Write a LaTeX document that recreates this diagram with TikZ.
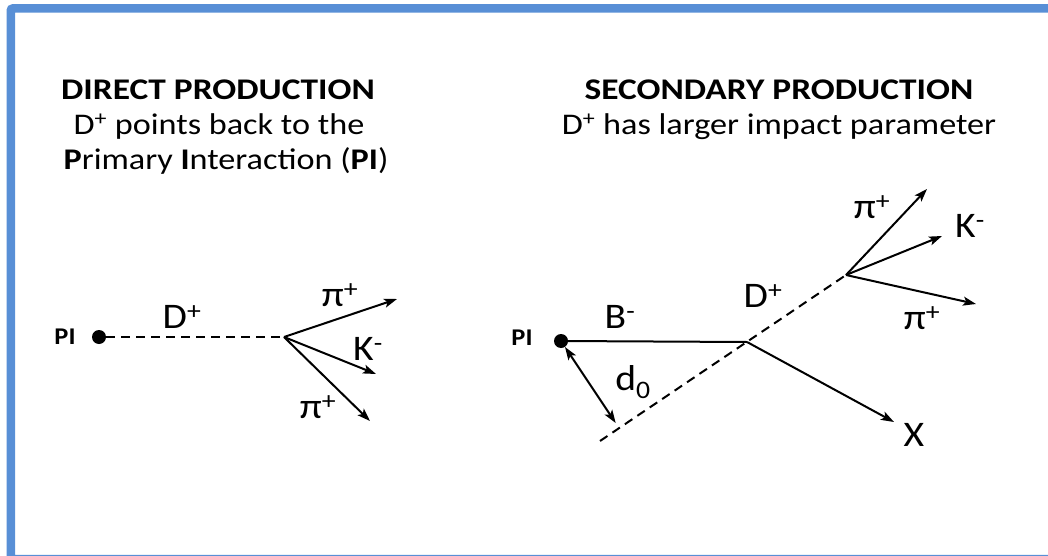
\documentclass[tikz,border=0pt]{standalone}
\usepackage{fontspec}
\usepackage{graphicx}
\setmainfont{Carlito}
\usetikzlibrary{arrows.meta}
\definecolor{frameblue}{RGB}{88,143,214}
\newcommand{\wtitle}[1]{\scalebox{1.18}[1]{#1}}
\newcommand{\wsub}[1]{\scalebox{1.14}[1]{#1}}
\newcommand{\wlbl}[1]{\scalebox{1.1}[1]{#1}}
\begin{document}
\begin{tikzpicture}[x=1pt,y=-1pt,
  title/.style={font=\fontsize{30}{34}\selectfont\bfseries, anchor=base, inner sep=0},
  subtitle/.style={font=\fontsize{30}{34}\selectfont, anchor=base, inner sep=0},
  lbl/.style={font=\fontsize{36}{40}\selectfont, inner sep=0},
  pilbl/.style={font=\fontsize{24}{28}\selectfont\bfseries, inner sep=0},
  dotnode/.style={circle, fill=black, inner sep=0, minimum size=14pt},
  track/.style={line width=2pt},
  dtrack/.style={line width=2pt, dash pattern=on 9pt off 6pt},
  arr/.style={line width=2pt, -{Stealth[length=13pt,width=9pt,inset=3pt]}},
  darr/.style={line width=2pt, {Stealth[length=13pt,width=9pt,inset=3pt]}-{Stealth[length=13pt,width=9pt,inset=3pt]}}
]
\useasboundingbox (0,0) rectangle (1048,556);
\clip (0,0) rectangle (1048,556);
% frame
\draw[frameblue, line width=8.5pt, rounded corners=2pt] (10.8,8.5) rectangle (1070,559);

% ---- left titles
\node[title] (t1) at (218,100) {\wtitle{DIRECT PRODUCTION}};
\node[subtitle] (t2) at (219,135) {\wsub{D\textsuperscript{+} points back to the}};
\node[subtitle] (t3) at (226,169) {\wsub{\textbf{P}rimary \textbf{I}nteraction (\textbf{PI})}};

% ---- right titles
\node[title] (t4) at (779,100) {\wtitle{SECONDARY PRODUCTION}};
\node[subtitle] (t5) at (779,135) {\wsub{D\textsuperscript{+} has larger impact parameter}};

% ---- left diagram
\node[pilbl] (pil) at (65,337) {\wlbl{PI}};
\node[dotnode] (pi1) at (99,337) {};
\coordinate (v1) at (284,337);
\coordinate (e1) at (397,299);
\coordinate (e2) at (376,374);
\coordinate (e3) at (370,421);
\draw[dtrack] (pi1) -- (v1);
\draw[arr] (v1) -- (e1);
\draw[arr] (v1) -- (e2);
\draw[arr] (v1) -- (e3);
\node[lbl] (ld) at (182,317) {\wlbl{D\textsuperscript{+}}};
\node[lbl] (lp1) at (340,295) {\wlbl{π\textsuperscript{+}}};
\node[lbl] (lk) at (368,349) {\wlbl{K\textsuperscript{-}}};
\node[lbl] (lp2) at (318,407) {\wlbl{π\textsuperscript{+}}};

% ---- right diagram
\node[pilbl] (pir) at (522,338) {\wlbl{PI}};
\node[dotnode] (pi2) at (561,341) {};
\coordinate (v2) at (747,342);
\coordinate (v3) at (846,275);
\coordinate (dstart) at (600,441);
\coordinate (foot) at (619,428);
\coordinate (f1) at (927,189);
\coordinate (f2) at (942,236);
\coordinate (f3) at (976,304);
\coordinate (fx) at (894,422);
\draw[track] (pi2.center) -- (v2);
\draw[dtrack] (dstart) -- (v3);
\draw[arr] (v2) -- (fx);
\draw[arr] (v3) -- (f1);
\draw[arr] (v3) -- (f2);
\draw[arr] (v3) -- (f3);
\draw[darr, shorten >=6pt] (pi2) -- (foot);
\node[lbl] (lb) at (620,317) {\wlbl{B\textsuperscript{-}}};
\node[lbl] (ld2) at (763,296) {\wlbl{D\textsuperscript{+}}};
\node[lbl] (ld0) at (633,382) {\wlbl{d\textsubscript{0}}};
\node[lbl] (rp1) at (872,207) {\wlbl{π\textsuperscript{+}}};
\node[lbl] (rk) at (970,226) {\wlbl{K\textsuperscript{-}}};
\node[lbl] (rp2) at (922,318) {\wlbl{π\textsuperscript{+}}};
\node[lbl] (rx) at (914,435) {\wlbl{X}};
\end{tikzpicture}
\end{document}
